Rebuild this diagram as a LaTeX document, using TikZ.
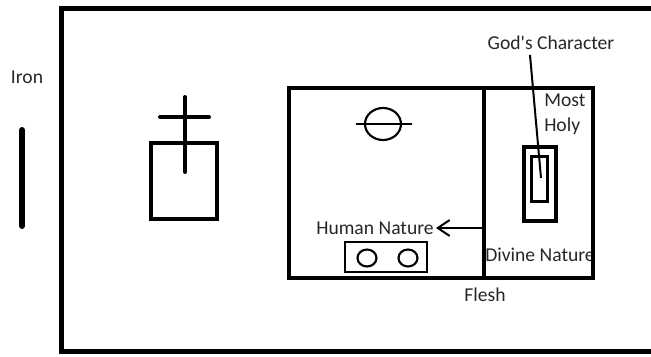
\documentclass[tikz,border=0pt]{standalone}
\usepackage{fontspec}
\setmainfont{Carlito}
\usetikzlibrary{arrows.meta}

\begin{document}
\begin{tikzpicture}[x=0.75pt,y=-0.75pt,
    wall/.style={line width=3.75pt},
    room/.style={line width=3pt},
    furniture/.style={line width=1.6pt},
    label/.style={inner sep=1.5pt,text=black!85,font=\fontsize{14.7}{18.5}\selectfont}]
    \useasboundingbox (0,0) rectangle (651,357);
    \clip (0,0) rectangle (651,357);
        % court and gate
        \draw[wall] (670,8) -- (61,8) -- (61,351) -- (670,351);
        \node[label] (iron) at (27,77) {Iron};
        \draw[line width=4.5pt,line cap=round] (22,130) -- (22,226);
        % altar
        \draw[room] (151,143) rectangle (217,219);
        \draw[room,line cap=round] (185,97) -- (185,172);
        \draw[room,line cap=round] (160,117) -- (209,117);
        % labels inside the tent
        \node[label] (divine) at (540,255) {Divine Nature};
        \node[label] (human) at (375,228) {Human Nature};
        \node[label,align=left,anchor=west] (mostholy) at (542,114) {Most\\Holy};
        \node[label] (godchar) at (551,43) {God\textquotesingle s Character};
        \node[label] (flesh) at (485,295) {Flesh};
        % holy place and most holy
        \draw[room] (289,88) rectangle (593,278);
        \draw[room] (484,88) -- (484,278);
        % laver
        \draw[furniture] (383,124) ellipse (18 and 16);
        \draw[furniture] (356,124) -- (412,124);
        % table
        \draw[furniture] (345,242) rectangle (427,272);
        \draw[furniture] (367,258) ellipse (9.5 and 8.5);
        \draw[furniture] (408,258) ellipse (9.5 and 8.5);
        % ark
        \draw[line width=3.5pt] (524,147) rectangle (556,221);
        \draw[line width=2.4pt] (531.5,156.5) rectangle (547.5,201.5);
        % connectors
        \coordinate (gcfoot) at (530,55);
        \coordinate (mercy) at (541,178);
        \draw[line width=1.5pt] (gcfoot) -- (mercy);
        \coordinate (veil) at (484,228);
        \draw[line width=1.5pt,-{Straight Barb[length=9pt,width=12pt]}] (veil) -- (human);
\end{tikzpicture}
\end{document}
